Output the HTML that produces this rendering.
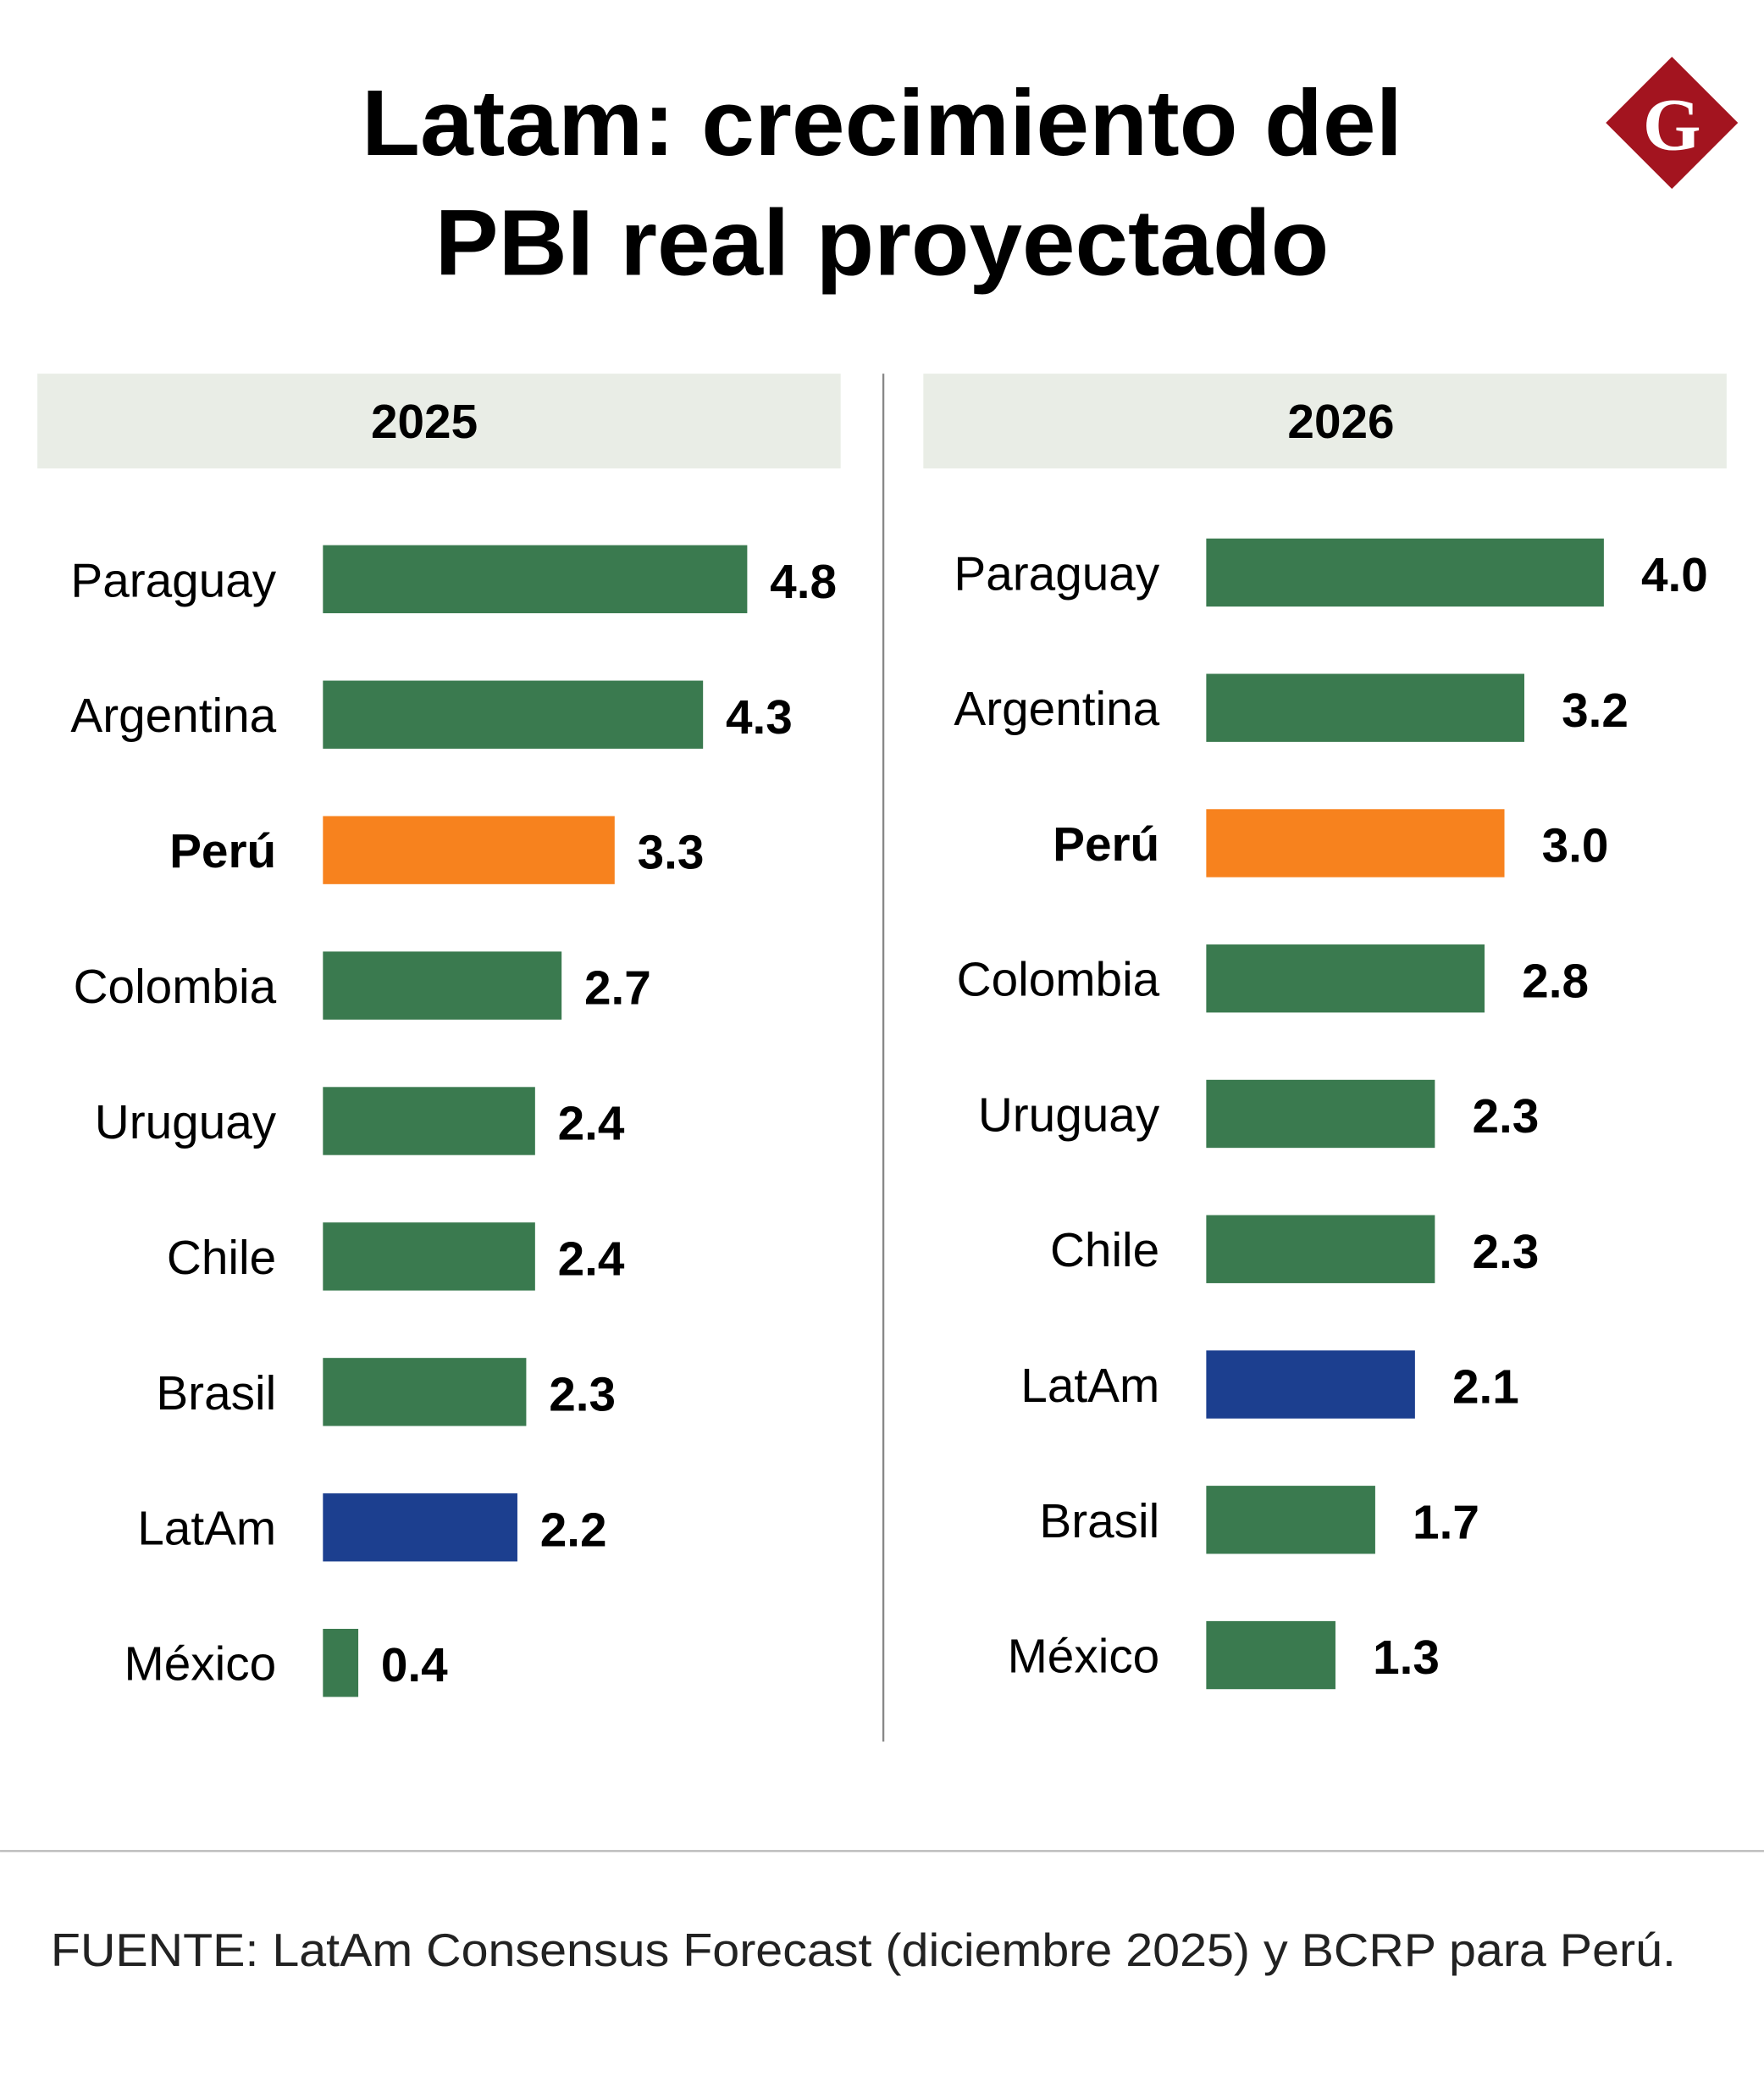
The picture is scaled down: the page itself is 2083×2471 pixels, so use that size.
<!DOCTYPE html>
<html><head><meta charset="utf-8"><style>
html,body{margin:0;padding:0;background:#fff;}
svg{display:block;font-family:"Liberation Sans",sans-serif;}
</style></head><body>
<svg id="chart" width="2083" height="2471" viewBox="0 0 1322 1568.3" xmlns="http://www.w3.org/2000/svg">
<rect width="1322" height="1568.3" fill="#fff"/>
<text x="661" y="116" text-anchor="middle" font-size="70" font-weight="bold" textLength="780" lengthAdjust="spacingAndGlyphs">Latam: crecimiento del</text>
<text x="661" y="206" text-anchor="middle" font-size="70" font-weight="bold" textLength="670" lengthAdjust="spacingAndGlyphs">PBI real proyectado</text>
<g>
<rect x="1218" y="57" width="70" height="70" fill="#a3141f" transform="rotate(45 1253 92)"/>
<text x="1253" y="112" text-anchor="middle" font-size="56" font-weight="bold" fill="#fff" font-family="Liberation Serif,serif">G</text>
</g>
<rect x="28" y="280" width="602" height="71" fill="#e9ede6"/>
<text x="318" y="328" text-anchor="middle" font-size="36" font-weight="bold">2025</text>
<rect x="692" y="280" width="602" height="71" fill="#e9ede6"/>
<text x="1005" y="328" text-anchor="middle" font-size="36" font-weight="bold">2026</text>
<line x1="662" y1="280" x2="662" y2="1305" stroke="#888" stroke-width="1.5"/>
<g id="bars"></g>
<line x1="0" y1="1387" x2="1322" y2="1387" stroke="#bbb" stroke-width="1.5"/>
<text x="38" y="1473" font-size="35" fill="#222" textLength="1218" lengthAdjust="spacingAndGlyphs">FUENTE: LatAm Consensus Forecast (diciembre 2025) y BCRP para Perú.</text>
</svg>
<script>
const cats2025 = ["Paraguay","Argentina","Perú","Colombia","Uruguay","Chile","Brasil","LatAm","México"];
const vals2025 = [4.8,4.3,3.3,2.7,2.4,2.4,2.3,2.2,0.4];
const cats2026 = ["Paraguay","Argentina","Perú","Colombia","Uruguay","Chile","LatAm","Brasil","México"];
const vals2026 = [4.0,3.2,3.0,2.8,2.3,2.3,2.1,1.7,1.3];
const g = document.getElementById('bars');
const NS = "http://www.w3.org/2000/svg";
function color(c){ return c==="Perú" ? "#f7821e" : (c==="LatAm" ? "#1c3f8f" : "#3a7a4f"); }
function panel(cats, vals, x0, labelX, scale, y0, step, year, gap){
  cats.forEach((c,i)=>{
    const cy = y0 + i*step;
    const w = vals[i]*scale;
    const r = document.createElementNS(NS,'rect');
    r.setAttribute('x',x0); r.setAttribute('y',cy-25.5);
    r.setAttribute('width',w); r.setAttribute('height',51);
    r.setAttribute('fill',color(c));
    
    
    g.appendChild(r);
    const l = document.createElementNS(NS,'text');
    l.setAttribute('x',labelX); l.setAttribute('y',cy+13);
    l.setAttribute('text-anchor','end'); l.setAttribute('font-size','36');
    if(c==="Perú") l.setAttribute('font-weight','bold');
    l.textContent = c;
    
    
    g.appendChild(l);
    const v = document.createElementNS(NS,'text');
    v.setAttribute('x',x0+w+gap); v.setAttribute('y',cy+14);
    v.setAttribute('font-size','36'); v.setAttribute('font-weight','bold');
    v.textContent = vals[i].toFixed(1);
    
    
    g.appendChild(v);
  });
}
panel(cats2025, vals2025, 242, 207, 66.25, 434, 101.5, '2025', 17);
panel(cats2026, vals2026, 904, 869, 74.5, 429, 101.4, '2026', 28);
</script>
</body></html>
